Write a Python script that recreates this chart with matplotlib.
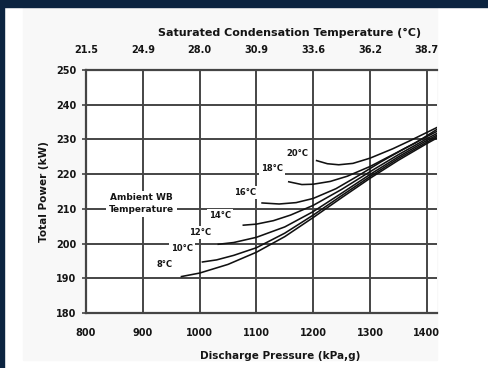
import matplotlib
matplotlib.use("Agg")
import matplotlib.pyplot as plt
from matplotlib.patches import Rectangle

plt.rcParams['font.family'] = ['DejaVu Sans']
plt.rcParams['font.weight'] = 'bold'

# discharge pressure (kPa,g) vs total power (kW) for each ambient wet-bulb temperature
p_8 = [968, 1000, 1050, 1100, 1150, 1200, 1250, 1300, 1350, 1400, 1420]
kw_8 = [190.5, 191.5, 194.0, 197.5, 202.0, 207.5, 213.2, 218.8, 224.0, 228.8, 230.6]
p_10 = [1005, 1030, 1060, 1100, 1150, 1200, 1250, 1300, 1350, 1400, 1420]
kw_10 = [194.7, 195.3, 196.6, 198.8, 203.0, 208.2, 213.8, 219.3, 224.5, 229.2, 231.0]
p_12 = [1033, 1060, 1100, 1150, 1200, 1250, 1300, 1350, 1400, 1420]
kw_12 = [199.8, 200.3, 201.8, 204.8, 209.2, 214.5, 219.9, 225.0, 229.7, 231.4]
p_14 = [1077, 1100, 1130, 1160, 1200, 1250, 1300, 1350, 1400, 1420]
kw_14 = [205.3, 205.6, 206.6, 208.2, 211.0, 215.6, 220.7, 225.6, 230.2, 231.9]
p_16 = [1110, 1140, 1170, 1200, 1240, 1280, 1320, 1360, 1400, 1420]
kw_16 = [211.7, 211.4, 211.8, 213.0, 215.8, 219.6, 223.6, 227.3, 230.8, 232.5]
p_18 = [1157, 1180, 1200, 1230, 1260, 1300, 1340, 1380, 1420]
kw_18 = [217.8, 217.0, 217.1, 217.9, 219.4, 222.2, 225.6, 229.0, 233.1]
p_20 = [1206, 1225, 1245, 1270, 1300, 1340, 1370, 1400, 1420]
kw_20 = [223.9, 223.0, 222.7, 223.1, 224.6, 227.3, 229.6, 232.0, 233.6]

curves = [(p_8, kw_8), (p_10, kw_10), (p_12, kw_12), (p_14, kw_14),
          (p_16, kw_16), (p_18, kw_18), (p_20, kw_20)]
wb_labels = ['8°C', '10°C', '12°C', '14°C', '16°C', '18°C', '20°C']
label_p = [939, 969, 1001, 1036, 1080, 1127, 1173]
label_kw = [193.9, 198.7, 203.3, 208.0, 214.8, 221.5, 226.0]

pressure_ticks = [800, 900, 1000, 1100, 1200, 1300, 1400]
sct_labels = ['21.5', '24.9', '28.0', '30.9', '33.6', '36.2', '38.7']
power_ticks = [180, 190, 200, 210, 220, 230, 240, 250]

ink = '#151515'

fig = plt.figure(figsize=(4.89, 3.68), dpi=100)
fig.patch.set_facecolor('white')
# page frame behind the chart
fig.add_artist(Rectangle((23 / 489, 8 / 368), 414 / 489, 353 / 368,
                         transform=fig.transFigure, color='#f8f8f8', zorder=-10))
fig.add_artist(Rectangle((0, 1 - 7 / 368), 1, 7 / 368,
                         transform=fig.transFigure, color='#0c2440', zorder=-10))
fig.add_artist(Rectangle((0, 0), 4 / 489, 1,
                         transform=fig.transFigure, color='#0c2440', zorder=-10))

ax = fig.add_axes([86 / 489, 1 - 313 / 368, (437 - 86) / 489, (313 - 70) / 368])
ax.set_facecolor('white')
ax.set_xlim(800, 1418)
ax.set_ylim(180, 250)
ax.set_xticks(pressure_ticks)
ax.set_yticks(power_ticks)
ax.grid(True, color='#454545', linewidth=1.4)
ax.set_axisbelow(True)
for side in ['left', 'bottom', 'top']:
    ax.spines[side].set_color('#454545')
    ax.spines[side].set_linewidth(1.6)
ax.spines['right'].set_visible(False)
ax.tick_params(axis='x', length=0, pad=11, labelsize=7, colors=ink)
ax.tick_params(axis='y', length=3, width=1.2, pad=4, labelsize=7,
               colors=ink, color='#454545')

for (p, kw) in curves:
    ax.plot(p, kw, color='#111111', linewidth=1.15, zorder=3, clip_on=True)

for txt, x, y in zip(wb_labels, label_p, label_kw):
    ax.text(x, y, txt, fontsize=6, fontweight='bold', color=ink,
            ha='center', va='center', zorder=4,
            bbox=dict(boxstyle='square,pad=0.25', fc='white', ec='none'))

ax.text(898, 211.5, 'Ambient WB\nTemperature', fontsize=6.5, fontweight='bold',
        color=ink, ha='center', va='center', linespacing=1.4, zorder=4,
        bbox=dict(boxstyle='square,pad=0.3', fc='white', ec='none'))

ax.set_xlabel('Discharge Pressure (kPa,g)', fontsize=7.5, fontweight='bold',
              color=ink)
ax.xaxis.set_label_coords(0.553, -0.155)
ax.set_ylabel('Total Power (kW)', fontsize=7.5, fontweight='bold',
              color=ink, labelpad=5)

top = ax.twiny()
top.set_xlim(ax.get_xlim())
top.set_xticks(pressure_ticks)
top.set_xticklabels(sct_labels)
top.tick_params(axis='x', length=0, pad=11, labelsize=7, colors=ink)
for side in ['left', 'right', 'bottom', 'top']:
    top.spines[side].set_visible(False)
top.set_xlabel('Saturated Condensation Temperature (°C)', fontsize=8,
               fontweight='bold', color=ink)
top.xaxis.set_label_coords(0.58, 1.14)

fig.savefig('out.png', dpi=100)
